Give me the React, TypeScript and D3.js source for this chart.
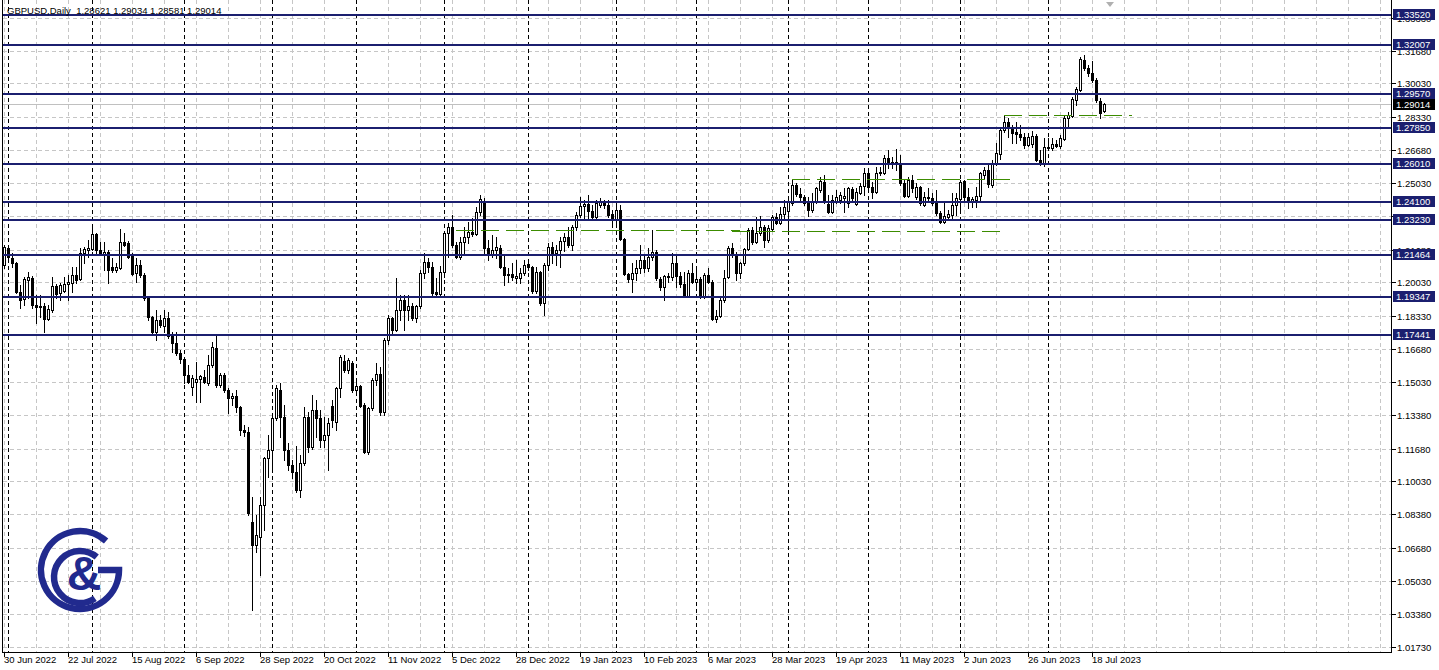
import React from "react";
import * as d3 from "d3";

type Bar = [number, number, number, number]; // open, high, low, close

// ---- Daily OHLC, grouped by month (GBPUSD) ----
const JUN_2022: Bar[] = [[1.2090, 1.2191, 1.2075, 1.2181]];
const JUL_2022: Bar[] = [
  [1.2176, 1.2191, 1.2126, 1.2131], [1.2126, 1.2151, 1.2080, 1.2100], [1.2100, 1.2105, 1.1950, 1.1955],
  [1.1955, 1.1990, 1.1875, 1.1915], [1.1920, 1.2030, 1.1890, 1.2020], [1.2015, 1.2055, 1.1925, 1.2030],
  [1.2025, 1.2035, 1.1875, 1.1890], [1.1890, 1.1940, 1.1799, 1.1880], [1.1880, 1.1940, 1.1830, 1.1885],
  [1.1885, 1.1900, 1.1754, 1.1820], [1.1820, 1.1890, 1.1815, 1.1870], [1.1865, 1.2030, 1.1855, 1.1985],
  [1.1985, 1.1995, 1.1925, 1.1945], [1.1950, 1.2000, 1.1915, 1.1990], [1.1960, 1.2030, 1.1955, 1.1995],
  [1.1995, 1.2040, 1.1915, 1.2005], [1.2000, 1.2080, 1.1955, 1.2040], [1.2040, 1.2080, 1.2000, 1.2015],
  [1.2020, 1.2176, 1.2015, 1.2151], [1.2151, 1.2181, 1.2100, 1.2171], [1.2166, 1.2216, 1.2131, 1.2176],
];
const AUG_2022: Bar[] = [
  [1.2171, 1.2291, 1.2166, 1.2246], [1.2246, 1.2251, 1.2151, 1.2166], [1.2166, 1.2206, 1.2141, 1.2151],
  [1.2141, 1.2206, 1.2065, 1.2156], [1.2156, 1.2166, 1.2000, 1.2065], [1.2080, 1.2126, 1.2055, 1.2065],
  [1.2065, 1.2100, 1.2055, 1.2080], [1.2075, 1.2271, 1.2070, 1.2206], [1.2206, 1.2251, 1.2186, 1.2191],
  [1.2201, 1.2210, 1.2126, 1.2131], [1.2136, 1.2151, 1.2040, 1.2045], [1.2050, 1.2126, 1.2005, 1.2090],
  [1.2090, 1.2115, 1.2030, 1.2040], [1.2040, 1.2050, 1.1915, 1.1925], [1.1925, 1.1930, 1.1815, 1.1830],
  [1.1830, 1.1835, 1.1749, 1.1754], [1.1754, 1.1865, 1.1714, 1.1815], [1.1815, 1.1840, 1.1779, 1.1789],
  [1.1784, 1.1865, 1.1754, 1.1825], [1.1825, 1.1855, 1.1724, 1.1734], [1.1734, 1.1754, 1.1654, 1.1699],
  [1.1699, 1.1754, 1.1639, 1.1649], [1.1649, 1.1664, 1.1598, 1.1618],
];
const SEP_2022: Bar[] = [
  [1.1618, 1.1623, 1.1498, 1.1538], [1.1538, 1.1588, 1.1498, 1.1503], [1.1478, 1.1538, 1.1437, 1.1523],
  [1.1503, 1.1603, 1.1402, 1.1518], [1.1518, 1.1540, 1.1402, 1.1533], [1.1528, 1.1563, 1.1498, 1.1503],
  [1.1498, 1.1638, 1.1488, 1.1588], [1.1588, 1.1704, 1.1578, 1.1679], [1.1674, 1.1744, 1.1478, 1.1488],
  [1.1488, 1.1548, 1.1478, 1.1538], [1.1538, 1.1548, 1.1452, 1.1462], [1.1462, 1.1472, 1.1347, 1.1423],
  [1.1420, 1.1447, 1.1387, 1.1432], [1.1432, 1.1462, 1.1352, 1.1377], [1.1377, 1.1380, 1.1236, 1.1261],
  [1.1261, 1.1286, 1.1231, 1.1251], [1.1251, 1.1276, 1.0835, 1.0845], [1.0799, 1.0925, 1.0357, 1.0684],
  [1.0684, 1.0835, 1.0649, 1.0734], [1.0724, 1.0925, 1.0533, 1.0885], [1.0885, 1.1126, 1.0759, 1.1121],
  [1.1121, 1.1236, 1.1025, 1.1161],
];
const OCT_2022: Bar[] = [
  [1.1161, 1.1347, 1.1070, 1.1322], [1.1322, 1.1487, 1.1312, 1.1472], [1.1462, 1.1497, 1.1226, 1.1327],
  [1.1327, 1.1387, 1.1111, 1.1161], [1.1161, 1.1196, 1.1060, 1.1086], [1.1086, 1.1111, 1.1020, 1.1050],
  [1.1050, 1.1181, 1.0950, 1.0960], [1.0960, 1.1136, 1.0925, 1.1096], [1.1096, 1.1377, 1.1086, 1.1327],
  [1.1327, 1.1352, 1.1151, 1.1176], [1.1176, 1.1437, 1.1165, 1.1362], [1.1362, 1.1412, 1.1226, 1.1322],
  [1.1322, 1.1362, 1.1176, 1.1211], [1.1211, 1.1327, 1.1176, 1.1236], [1.1236, 1.1322, 1.1060, 1.1296],
  [1.1382, 1.1412, 1.1276, 1.1312], [1.1300, 1.1477, 1.1261, 1.1472], [1.1472, 1.1638, 1.1427, 1.1628],
  [1.1610, 1.1638, 1.1553, 1.1563], [1.1563, 1.1623, 1.1548, 1.1613], [1.1600, 1.1610, 1.1452, 1.1462],
];
const NOV_2022: Bar[] = [
  [1.1462, 1.1513, 1.1437, 1.1482], [1.1482, 1.1490, 1.1377, 1.1382], [1.1387, 1.1397, 1.1146, 1.1151],
  [1.1151, 1.1377, 1.1141, 1.1372], [1.1372, 1.1523, 1.1362, 1.1513], [1.1513, 1.1598, 1.1487, 1.1543],
  [1.1543, 1.1578, 1.1337, 1.1352], [1.1352, 1.1724, 1.1337, 1.1714], [1.1714, 1.1840, 1.1694, 1.1825],
  [1.1825, 1.1830, 1.1739, 1.1764], [1.1764, 1.2025, 1.1759, 1.1864], [1.1864, 1.1940, 1.1814, 1.1915],
  [1.1915, 1.1940, 1.1764, 1.1864], [1.1864, 1.1940, 1.1814, 1.1884], [1.1884, 1.1900, 1.1814, 1.1825],
  [1.1825, 1.1889, 1.1804, 1.1884], [1.1884, 1.2065, 1.1874, 1.2050], [1.2050, 1.2151, 1.2025, 1.2105],
  [1.2105, 1.2126, 1.2055, 1.2080], [1.2080, 1.2105, 1.1940, 1.1950], [1.1955, 1.2025, 1.1930, 1.1945],
  [1.1945, 1.2085, 1.1940, 1.2055],
];
const DEC_2022: Bar[] = [
  [1.2055, 1.2256, 1.2030, 1.2251], [1.2251, 1.2301, 1.2131, 1.2281], [1.2281, 1.2342, 1.2181, 1.2191],
  [1.2191, 1.2206, 1.2126, 1.2131], [1.2131, 1.2231, 1.2121, 1.2206], [1.2206, 1.2281, 1.2151, 1.2231],
  [1.2231, 1.2306, 1.2201, 1.2256], [1.2256, 1.2326, 1.2236, 1.2246], [1.2246, 1.2382, 1.2241, 1.2357],
  [1.2357, 1.2442, 1.2342, 1.2422], [1.2412, 1.2427, 1.2151, 1.2176], [1.2176, 1.2216, 1.2115, 1.2146],
  [1.2146, 1.2241, 1.2131, 1.2166], [1.2166, 1.2231, 1.2126, 1.2181], [1.2176, 1.2191, 1.2075, 1.2080],
  [1.2080, 1.2141, 1.1990, 1.2040], [1.2040, 1.2075, 1.2005, 1.2045], [1.2045, 1.2100, 1.2015, 1.2030],
  [1.2025, 1.2115, 1.2000, 1.2035], [1.2025, 1.2075, 1.2000, 1.2050], [1.2050, 1.2115, 1.2040, 1.2090],
];
const JAN_2023: Bar[] = [
  [1.2095, 1.2115, 1.2065, 1.2080], [1.2080, 1.2085, 1.1950, 1.1960], [1.1960, 1.2080, 1.1950, 1.2055],
  [1.2055, 1.2060, 1.1889, 1.1899], [1.1899, 1.2100, 1.1839, 1.2090], [1.2090, 1.2201, 1.2065, 1.2181],
  [1.2181, 1.2206, 1.2100, 1.2151], [1.2151, 1.2191, 1.2090, 1.2166], [1.2166, 1.2231, 1.2080, 1.2211],
  [1.2211, 1.2251, 1.2161, 1.2231], [1.2231, 1.2281, 1.2181, 1.2191], [1.2191, 1.2291, 1.2166, 1.2281],
  [1.2281, 1.2357, 1.2266, 1.2342], [1.2342, 1.2432, 1.2332, 1.2387], [1.2387, 1.2417, 1.2326, 1.2397],
  [1.2397, 1.2442, 1.2316, 1.2362], [1.2362, 1.2392, 1.2326, 1.2332], [1.2332, 1.2417, 1.2326, 1.2402],
  [1.2392, 1.2427, 1.2382, 1.2407], [1.2407, 1.2417, 1.2377, 1.2392], [1.2392, 1.2417, 1.2332, 1.2342],
  [1.2347, 1.2367, 1.2281, 1.2326],
];
const FEB_2023: Bar[] = [
  [1.2316, 1.2402, 1.2281, 1.2367], [1.2367, 1.2392, 1.2216, 1.2221], [1.2221, 1.2226, 1.2040, 1.2045],
  [1.2045, 1.2050, 1.2005, 1.2020], [1.2020, 1.2100, 1.1955, 1.2050], [1.2050, 1.2115, 1.2015, 1.2075],
  [1.2075, 1.2191, 1.2050, 1.2115], [1.2115, 1.2141, 1.2055, 1.2075], [1.2075, 1.2176, 1.2060, 1.2131],
  [1.2131, 1.2266, 1.2115, 1.2156], [1.2156, 1.2166, 1.2015, 1.2025], [1.2020, 1.2030, 1.1965, 1.1980],
  [1.1980, 1.2040, 1.1915, 1.2035], [1.2035, 1.2050, 1.2005, 1.2030], [1.2030, 1.2151, 1.2015, 1.2100],
  [1.2100, 1.2141, 1.1980, 1.2035], [1.2035, 1.2055, 1.1980, 1.1995], [1.1995, 1.2055, 1.1930, 1.1935],
  [1.1935, 1.2065, 1.1930, 1.2050], [1.2050, 1.2100, 1.2000, 1.2005],
];
const MAR_2023: Bar[] = [
  [1.2005, 1.2065, 1.1980, 1.2020], [1.2020, 1.2030, 1.1925, 1.1930], [1.1930, 1.2050, 1.1925, 1.2040],
  [1.2040, 1.2075, 1.2000, 1.2005], [1.2005, 1.2015, 1.1814, 1.1819], [1.1819, 1.1864, 1.1805, 1.1834],
  [1.1834, 1.1925, 1.1829, 1.1915], [1.1915, 1.2065, 1.1904, 1.2025], [1.2030, 1.2186, 1.2025, 1.2176],
  [1.2176, 1.2201, 1.2131, 1.2141], [1.2141, 1.2156, 1.2015, 1.2050], [1.2050, 1.2105, 1.2025, 1.2100],
  [1.2100, 1.2176, 1.2090, 1.2171], [1.2171, 1.2276, 1.2166, 1.2266], [1.2266, 1.2281, 1.2196, 1.2206],
  [1.2206, 1.2332, 1.2201, 1.2251], [1.2251, 1.2337, 1.2241, 1.2281], [1.2281, 1.2291, 1.2181, 1.2216],
  [1.2216, 1.2291, 1.2206, 1.2276], [1.2271, 1.2342, 1.2261, 1.2332], [1.2332, 1.2352, 1.2296, 1.2301],
  [1.2301, 1.2382, 1.2296, 1.2347], [1.2347, 1.2417, 1.2316, 1.2382],
];
const APR_2023: Bar[] = [
  [1.2360, 1.2417, 1.2266, 1.2407], [1.2402, 1.2517, 1.2392, 1.2492], [1.2492, 1.2502, 1.2437, 1.2447],
  [1.2447, 1.2477, 1.2417, 1.2432], [1.2432, 1.2442, 1.2392, 1.2402], [1.2402, 1.2432, 1.2337, 1.2367],
  [1.2367, 1.2452, 1.2357, 1.2412], [1.2412, 1.2482, 1.2402, 1.2477], [1.2467, 1.2533, 1.2457, 1.2512],
  [1.2507, 1.2543, 1.2402, 1.2407], [1.2397, 1.2442, 1.2352, 1.2357], [1.2357, 1.2442, 1.2352, 1.2417],
  [1.2407, 1.2467, 1.2402, 1.2432], [1.2417, 1.2457, 1.2402, 1.2442], [1.2427, 1.2477, 1.2357, 1.2437],
  [1.2402, 1.2482, 1.2382, 1.2477], [1.2472, 1.2482, 1.2417, 1.2427], [1.2397, 1.2477, 1.2392, 1.2457],
  [1.2452, 1.2502, 1.2447, 1.2487], [1.2487, 1.2578, 1.2442, 1.2553],
];
const MAY_2023: Bar[] = [
  [1.2553, 1.2568, 1.2477, 1.2482], [1.2482, 1.2507, 1.2427, 1.2457], [1.2457, 1.2583, 1.2452, 1.2553],
  [1.2553, 1.2583, 1.2543, 1.2558], [1.2553, 1.2643, 1.2548, 1.2628], [1.2628, 1.2668, 1.2578, 1.2603],
  [1.2608, 1.2633, 1.2578, 1.2603], [1.2608, 1.2673, 1.2568, 1.2598], [1.2598, 1.2643, 1.2492, 1.2502],
  [1.2502, 1.2517, 1.2432, 1.2437], [1.2437, 1.2533, 1.2432, 1.2517], [1.2517, 1.2543, 1.2457, 1.2477],
  [1.2432, 1.2502, 1.2422, 1.2482], [1.2482, 1.2487, 1.2392, 1.2402], [1.2392, 1.2457, 1.2387, 1.2432],
  [1.2432, 1.2477, 1.2417, 1.2427], [1.2427, 1.2452, 1.2392, 1.2402], [1.2402, 1.2467, 1.2342, 1.2352],
  [1.2352, 1.2362, 1.2301, 1.2306], [1.2306, 1.2402, 1.2301, 1.2337], [1.2332, 1.2367, 1.2326, 1.2347],
  [1.2342, 1.2452, 1.2326, 1.2392], [1.2392, 1.2452, 1.2342, 1.2427],
];
const JUN_2023: Bar[] = [
  [1.2422, 1.2517, 1.2352, 1.2507], [1.2512, 1.2517, 1.2417, 1.2432], [1.2432, 1.2477, 1.2377, 1.2417],
  [1.2407, 1.2432, 1.2382, 1.2422], [1.2417, 1.2482, 1.2382, 1.2437], [1.2437, 1.2558, 1.2417, 1.2553],
  [1.2543, 1.2583, 1.2528, 1.2568], [1.2568, 1.2593, 1.2482, 1.2497], [1.2492, 1.2618, 1.2482, 1.2603],
  [1.2598, 1.2703, 1.2593, 1.2653], [1.2648, 1.2779, 1.2623, 1.2769], [1.2769, 1.2844, 1.2759, 1.2809],
  [1.2809, 1.2829, 1.2734, 1.2779], [1.2779, 1.2794, 1.2703, 1.2754], [1.2759, 1.2809, 1.2703, 1.2749],
  [1.2749, 1.2794, 1.2718, 1.2734], [1.2734, 1.2754, 1.2678, 1.2693], [1.2693, 1.2754, 1.2688, 1.2734],
  [1.2700, 1.2764, 1.2683, 1.2739], [1.2739, 1.2749, 1.2613, 1.2618], [1.2618, 1.2668, 1.2593, 1.2603],
  [1.2603, 1.2729, 1.2588, 1.2683],
];
const JUL_2023: Bar[] = [
  [1.2683, 1.2729, 1.2668, 1.2678], [1.2678, 1.2729, 1.2668, 1.2698], [1.2698, 1.2718, 1.2683, 1.2688],
  [1.2688, 1.2744, 1.2678, 1.2729], [1.2724, 1.2844, 1.2718, 1.2829], [1.2829, 1.2859, 1.2784, 1.2844],
  [1.2839, 1.2935, 1.2834, 1.2925], [1.2920, 1.2985, 1.2894, 1.2975], [1.2970, 1.3136, 1.2965, 1.3126],
  [1.3120, 1.3146, 1.3070, 1.3080], [1.3080, 1.3095, 1.3040, 1.3055], [1.3055, 1.3115, 1.3010, 1.3020],
  [1.3020, 1.3030, 1.2909, 1.2920], [1.2915, 1.2930, 1.2829, 1.2854], [1.28621, 1.29034, 1.28581, 1.29014],
];

const MONTHS: Bar[][] = [
  JUN_2022, JUL_2022, AUG_2022, SEP_2022, OCT_2022, NOV_2022, DEC_2022,
  JAN_2023, FEB_2023, MAR_2023, APR_2023, MAY_2023, JUN_2023, JUL_2023,
];

const X_LABELS = [
  "30 Jun 2022", "22 Jul 2022", "15 Aug 2022", "6 Sep 2022", "28 Sep 2022", "20 Oct 2022",
  "11 Nov 2022", "5 Dec 2022", "28 Dec 2022", "19 Jan 2023", "10 Feb 2023", "6 Mar 2023",
  "28 Mar 2023", "19 Apr 2023", "11 May 2023", "2 Jun 2023", "26 Jun 2023", "18 Jul 2023",
];
const X_LABEL_EVERY = 16; // bars between time labels
const X_GRID_EVERY = 8;   // bars between vertical grid lines

const PRICE_TICKS = [
  1.3333, 1.3168, 1.3003, 1.2833, 1.2668, 1.2503, 1.2338, 1.2168, 1.2003, 1.1833,
  1.1668, 1.1503, 1.1338, 1.1168, 1.1003, 1.0838, 1.0668, 1.0503, 1.0338, 1.0173,
];
const LEVELS = [1.3352, 1.32007, 1.2957, 1.2785, 1.2601, 1.241, 1.2323, 1.21464, 1.19347, 1.17441];
const LAST_PRICE = 1.29014;
const TREND_LINES = [
  { price: 1.2265, from: 113, to: 184 },
  { price: 1.2261, from: 182, to: 250 },
  { price: 1.2521, from: 197, to: 252 },
  { price: 1.2845, from: 250, to: 282 },
];
const HEADER = "GBPUSD,Daily  1.28621 1.29034 1.28581 1.29014";

const W = 1439;
const H = 670;
const PL = 2.5, PR = 1391.5, PB = 652.5;
const NAVY = "#1b1f6f";
const FONT = "'Liberation Sans', Arial, sans-serif";

const fmt = (v: number) => v.toFixed(5);

export default function App() {
  const bars = MONTHS.flat();
  const n = bars.length;
  const x = d3.scaleLinear().domain([0, n - 1]).range([4, 4 + 4 * (n - 1)]);
  const y = d3.scaleLinear().domain([1.0173, 1.3352]).range([646.6, 14]);
  const py = (p: number) => Math.round(y(p));
  const px = (i: number) => Math.round(x(i));

  // month separators: first bar of each month after the first group
  const sepIdx: number[] = [];
  let acc = 0;
  MONTHS.forEach((m, k) => {
    if (k > 0) sepIdx.push(acc);
    acc += m.length;
  });

  const gridIdx = d3.range(0, 400, X_GRID_EVERY).filter((i) => x(i) < PR);
  // a tick label fully covered by a level's label box is not drawn (as in the terminal)
  const visibleTicks = PRICE_TICKS.filter((p) => !LEVELS.some((l) => Math.abs(py(l) - py(p)) < 4));

  // logo paths
  const g = d3.path();
  g.arc(80, 570, 39, (-48 * Math.PI) / 180, -2 * Math.PI, true);
  g.lineTo(98, 570);
  const c = d3.path();
  c.arc(80, 577, 26, (-50 * Math.PI) / 180, (-305 * Math.PI) / 180, true);

  return (
    <svg
      width={W}
      height={H}
      style={{ position: "absolute", left: 0, top: 0, display: "block", background: "#fff" }}
      fontFamily={FONT}
    >
      <rect x={0} y={0} width={W} height={H} fill="#fff" />

      {/* vertical grid */}
      <g stroke="#c6c6c6" strokeDasharray="4,3" shapeRendering="crispEdges">
        {gridIdx.map((i) => (
          <line key={"vg" + i} x1={px(i) + 0.5} x2={px(i) + 0.5} y1={0} y2={PB} />
        ))}
      </g>
      {/* horizontal grid */}
      <g stroke="#c6c6c6" strokeDasharray="4,3" shapeRendering="crispEdges">
        {PRICE_TICKS.map((p) => (
          <line key={"hg" + p} x1={PL} x2={PR} y1={py(p) + 0.5} y2={py(p) + 0.5} />
        ))}
      </g>
      {/* month separators */}
      <g stroke="#000" strokeDasharray="4,3" shapeRendering="crispEdges">
        {sepIdx.map((i) => (
          <line key={"ms" + i} x1={px(i) + 0.5} x2={px(i) + 0.5} y1={0} y2={PB} />
        ))}
      </g>

      {/* logo */}
      <g stroke="#212a8e" fill="none" strokeWidth={6.5}>
        <path d={g.toString()} />
        <path d={c.toString()} />
      </g>
      <text x={84} y={590} fontSize={48} fontWeight="bold" fill="#212a8e" textAnchor="middle" fontFamily="'Liberation Sans', Arial, sans-serif">
        &amp;
      </text>

      {/* last price line */}
      <line x1={PL} x2={PR} y1={py(LAST_PRICE) + 0.5} y2={py(LAST_PRICE) + 0.5} stroke="#c0c0c0" shapeRendering="crispEdges" />

      {/* candles */}
      <g shapeRendering="crispEdges">
        {bars.map(([o, h, l, cl], i) => {
          const cx = px(i);
          const top = Math.min(py(o), py(cl));
          const bot = Math.max(py(o), py(cl));
          const bull = cl >= o;
          return (
            <g key={"b" + i}>
              <line x1={cx + 0.5} x2={cx + 0.5} y1={py(h)} y2={py(l) + 1} stroke="#000" />
              {bull ? (
                <path
                  d={`M${cx - 0.5},${top + 0.5}h2v${bot - top}h-2Z`}
                  fill="#fff"
                  stroke="#000"
                />
              ) : (
                <rect x={cx - 1} y={top} width={3} height={bot - top + 1} fill="#000" />
              )}
            </g>
          );
        })}
      </g>

      {/* trend lines */}
      <g stroke="#3c8c00" strokeDasharray="18,7" shapeRendering="crispEdges">
        {TREND_LINES.map((t, k) => (
          <line key={"tl" + k} x1={x(t.from)} x2={x(t.to)} y1={py(t.price) + 0.5} y2={py(t.price) + 0.5} />
        ))}
      </g>

      {/* horizontal levels */}
      <g stroke={NAVY} strokeWidth={2} shapeRendering="crispEdges">
        {LEVELS.map((p) => (
          <line key={"lv" + p} x1={PL} x2={PR} y1={py(p) + 1} y2={py(p) + 1} />
        ))}
      </g>

      {/* frame */}
      <g stroke="#000" shapeRendering="crispEdges" fill="none">
        <line x1={PL} x2={PL} y1={0} y2={PB} />
        <line x1={PL} x2={PR} y1={PB} y2={PB} />
        <line x1={PR} x2={PR} y1={0} y2={PB} />
      </g>

      {/* price axis */}
      <g fontSize={9.5} fill="#000">
        {PRICE_TICKS.map((p) => (
          <line key={"ptk" + p} x1={PR} x2={PR + 4} y1={py(p) + 0.5} y2={py(p) + 0.5} stroke="#000" shapeRendering="crispEdges" />
        ))}
        {visibleTicks.map((p) => (
          <text key={"pt" + p} x={1397} y={py(p) + 4}>{fmt(p)}</text>
        ))}
      </g>
      <g fontSize={9.5}>
        {LEVELS.map((p) => (
          <g key={"pl" + p}>
            <rect x={1393} y={py(p) - 5} width={42} height={11} fill={NAVY} />
            <text x={1396} y={py(p) + 4} fill="#fff">{fmt(p)}</text>
          </g>
        ))}
        <rect x={1393} y={py(LAST_PRICE) - 5} width={42} height={11} fill="#000" />
        <text x={1396} y={py(LAST_PRICE) + 4} fill="#fff">{fmt(LAST_PRICE)}</text>
      </g>

      {/* time axis */}
      <g fontSize={9.5} fill="#000">
        {X_LABELS.map((lab, k) => {
          const cx = px(k * X_LABEL_EVERY);
          return (
            <g key={"xl" + k}>
              <line x1={cx + 0.5} x2={cx + 0.5} y1={PB} y2={PB + 4} stroke="#000" shapeRendering="crispEdges" />
              <text x={cx} y={663}>{lab}</text>
            </g>
          );
        })}
      </g>

      {/* shift marker */}
      <path d="M1106,2 L1114,2 L1110,7 Z" fill="#b0b0b0" />

      {/* header */}
      <text x={7} y={14} fontSize={9.5} fill="#000" style={{ whiteSpace: "pre" }}>
        {HEADER}
      </text>
    </svg>
  );
}
